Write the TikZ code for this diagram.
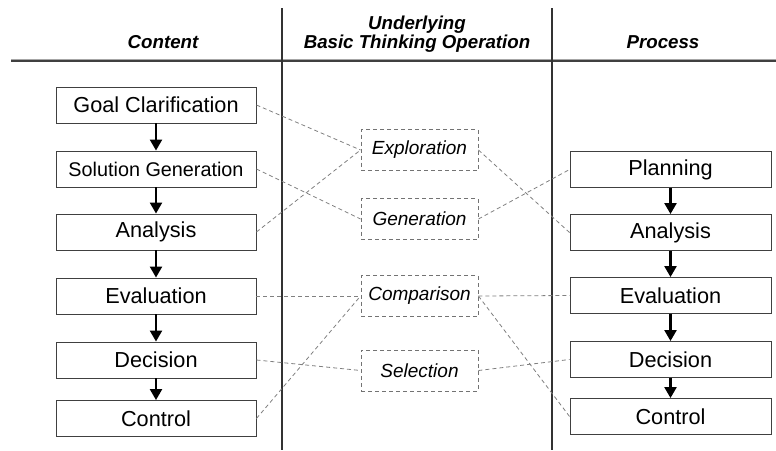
\documentclass[tikz,border=0pt]{standalone}
\usepackage{fontspec}
\setmainfont{Liberation Sans}
\usetikzlibrary{arrows.meta}
\begin{document}
\begin{tikzpicture}[x=1pt,y=-1pt,
  cbox/.style={draw=black!75,line width=0.9pt,minimum width=200pt,minimum height=36pt,inner sep=0pt,font=\fontsize{21.7}{24}\selectfont},
  obox/.style={draw=black!55,dashed,dash pattern=on 4pt off 3pt,line width=0.9pt,minimum width=117pt,minimum height=41pt,inner sep=0pt,font=\fontsize{19}{22}\selectfont\itshape},
  hdr/.style={font=\fontsize{18.7}{21}\selectfont\bfseries\itshape,align=center},
  flow/.style={line width=2.3pt,-{Triangle[width=12pt,length=11pt]}},
  link/.style={draw=black!50,dash pattern=on 4pt off 3pt,line width=0.8pt}
]
\useasboundingbox (0,0) rectangle (776,450);
% headers
\node[hdr] (hc) at (163,42) {Content};
\node[hdr] (hb) at (417,34) {Underlying\\[-2pt]Basic Thinking Operation};
\node[hdr] (hp) at (663,42) {Process};
\coordinate (hl1) at (11,61);
\coordinate (hl2) at (776,61);
\draw[line width=1.3pt,black!75] (hl1) -- (hl2);
\draw[line width=1.0pt,black!35] ([yshift=1.4pt]hl1) -- ([yshift=1.4pt]hl2);
\coordinate (v1t) at (282,8);
\coordinate (v1b) at (282,450);
\coordinate (v2t) at (552,8);
\coordinate (v2b) at (552,450);
\draw[line width=1.3pt,black!80] (v1t) -- (v1b);
\draw[line width=1.3pt,black!80] (v2t) -- (v2b);
% left column
\node[cbox] (gc) at (156,105) {Goal Clarification};
\node[cbox,font=\fontsize{19.8}{22}\selectfont] (sg) at (156,169) {Solution Generation};
\node[cbox] (la) at (156,232) {Analysis};
\node[cbox] (le) at (156,296) {Evaluation};
\node[cbox] (ld) at (156,360) {Decision};
\node[cbox] (lc) at (156,418.5) {Control};
% middle
\node[obox] (ex) at (419.5,150) {Exploration};
\node[obox] (ge) at (419.5,219) {Generation};
\node[obox] (co) at (419.5,296) {Comparison};
\node[obox] (se) at (419.5,370.5) {Selection};
% right column
\node[cbox,minimum width=201pt] (rp) at (670.5,169.5) {Planning};
\node[cbox,minimum width=201pt] (ra) at (670.5,232.5) {Analysis};
\node[cbox,minimum width=201pt] (re) at (670.5,295.5) {Evaluation};
\node[cbox,minimum width=201pt] (rd) at (670.5,359.5) {Decision};
\node[cbox,minimum width=201pt] (rc) at (670.5,416.5) {Control};
% flows
\draw[flow] (gc) -- (sg);
\draw[flow] (sg) -- (la);
\draw[flow] (la) -- (le);
\draw[flow] (le) -- (ld);
\draw[flow] (ld) -- (lc);
\draw[flow] (rp) -- (ra);
\draw[flow] (ra) -- (re);
\draw[flow] (re) -- (rd);
\draw[flow] (rd) -- (rc);
% links left
\draw[link] (gc.east) -- (ex.west);
\draw[link] (sg.east) -- (ge.west);
\draw[link] (la.east) -- (ex.west);
\draw[link] (le.east) -- (co.west);
\draw[link] (ld.east) -- (se.west);
\draw[link] (lc.east) -- (co.west);
% links right
\draw[link] (ex.east) -- (ra.west);
\draw[link] (ge.east) -- (rp.west);
\draw[link] (co.east) -- (re.west);
\draw[link] (co.east) -- (rc.west);
\draw[link] (se.east) -- (rd.west);
\end{tikzpicture}
\end{document}
